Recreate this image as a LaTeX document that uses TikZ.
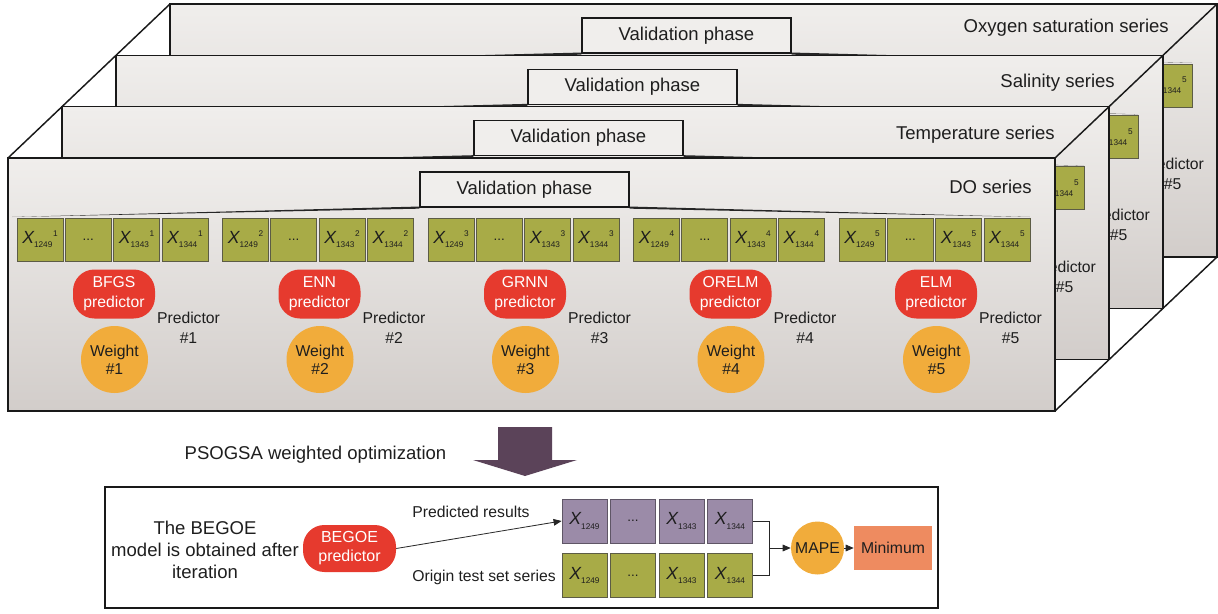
\documentclass[tikz,border=0pt]{standalone}
\usepackage{fontspec}
\setmainfont{Liberation Sans}
\usetikzlibrary{arrows.meta}
\definecolor{xgreen}{HTML}{A8AB47}
\definecolor{xgreenb}{HTML}{5C5C45}
\definecolor{xpurple}{HTML}{9B8BA8}
\definecolor{xpurpleb}{HTML}{5F5666}
\definecolor{pred}{HTML}{E63A2E}
\definecolor{porange}{HTML}{F1AC3B}
\definecolor{psalmon}{HTML}{EE8B60}
\definecolor{bigarrow}{HTML}{5B4359}
\definecolor{paneltop}{HTML}{F0EEEC}
\definecolor{panelbot}{HTML}{D2CDCA}
\definecolor{txt}{HTML}{1E1E1E}
\newcommand\bigf{\fontsize{13.9}{16.5}\selectfont}
\newcommand\midf{\fontsize{11.8}{14.5}\selectfont}
\newcommand\xlab[2]{{\fontsize{13.2}{13}\selectfont\itshape X}{\fontsize{6.2}{6}\selectfont\raisebox{-3.6pt}{#1}\hspace{0.5pt}\raisebox{4.8pt}{#2}}}
\newcommand\xlb[1]{{\fontsize{13.2}{13}\selectfont\itshape X}{\fontsize{6.2}{6}\selectfont\raisebox{-3.6pt}{#1}}}
\tikzset{
  panel/.style={draw=black!90, line width=1.1pt, top color=paneltop, bottom color=panelbot},
  vbox/.style={draw=black!90, line width=1.1pt, fill=paneltop, minimum width=156.75pt, minimum height=26.25pt, inner sep=0pt, font=\bigf, text=txt},
  series/.style={font=\bigf, text=txt, inner sep=0pt},
  xbox/.style={draw=xgreenb, line width=0.6pt, fill=xgreen, minimum width=34.5pt, minimum height=32.25pt, inner sep=0pt, text=txt},
  pbox/.style={draw=xpurpleb, line width=0.6pt, fill=xpurple, minimum width=33.75pt, minimum height=33pt, inner sep=0pt, text=txt},
  gbox/.style={xbox, minimum width=33.75pt, minimum height=33pt},
  pill/.style={fill=pred, rounded corners=16pt, minimum width=61.5pt, minimum height=36.75pt, inner sep=0pt, align=center, font=\fontsize{11.8}{15}\selectfont, text=white},
  wcirc/.style={circle, fill=porange, minimum size=50.25pt, inner sep=0pt, align=center, font=\fontsize{11.8}{13.5}\selectfont, text=txt},
  ptext/.style={align=center, font=\fontsize{11.8}{15}\selectfont, text=txt, inner sep=0pt},
  wedge/.style={fill=black!85},
  lbl/.style={font=\midf, text=txt, inner sep=0pt},
  conn/.style={draw=black!85, line width=0.6pt},
  arr/.style={conn, -{Triangle[length=6pt,width=5pt]}},
}
% back panel: only the parts that stay visible
% #1 prefix, #2 px, #3 py, #4 label, #5 right inset, #6 label y
\newcommand\panelbase[6]{%
 \begin{scope}[name prefix=#1]
  \path[panel] (#2,#3) rectangle ++(1047,253);
  \node[vbox] (val) at ({#2+516.5},{#3+31.5}) {Validation phase};
  \node[series, anchor=east] (lab) at ({#2+1047-#5},{#3+#6}) {#4};
  \fill[wedge] ([yshift=0.9pt]val.south west) -- ([yshift=-0.7pt]val.south west) -- ({#2+4},{#3+59}) -- cycle;
  \fill[wedge] ([yshift=0.9pt]val.south east) -- ([yshift=-0.7pt]val.south east) -- ({#2+1022},{#3+59}) -- cycle;
  \node[xbox] (b43) at ({#2+32+205.5*4+48.3*3},{#3+81.5}) {\xlab{1344}{5}};
  \node[ptext] (t4) at ({#2+180.5+205.5*4},{#3+170}) {Predictor\\\#5};
 \end{scope}}
% front panel: full content
\newcommand\panelfull[6]{%
 \begin{scope}[name prefix=#1]
  \path[panel] (#2,#3) rectangle ++(1047,253);
  \node[vbox] (val) at ({#2+516.5},{#3+31.5}) {Validation phase};
  \node[series, anchor=east] (lab) at ({#2+1047-#5},{#3+#6}) {#4};
  \fill[wedge] ([yshift=0.9pt]val.south west) -- ([yshift=-0.7pt]val.south west) -- ({#2+4},{#3+59}) -- cycle;
  \fill[wedge] ([yshift=0.9pt]val.south east) -- ([yshift=-0.7pt]val.south east) -- ({#2+1022},{#3+59}) -- cycle;
  \foreach \g/\nm in {0/BFGS,1/ENN,2/GRNN,3/ORELM,4/ELM}{
    \pgfmathsetmacro\n{int(\g+1)}
    \foreach \j/\s in {0/1249,2/1343,3/1344}{
      \node[xbox] (b\g\j) at ({#2+32+205.5*\g+48.3*\j},{#3+81.5}) {\xlab{\s}{\n}};
    }
    \node[xbox, font=\fontsize{10}{10}\selectfont] (b\g1) at ({#2+32+205.5*\g+48.3},{#3+81.5}) {...};
    \node[pill] (p\g) at ({#2+106+205.5*\g},{#3+136}) {\nm\\predictor};
    \node[wcirc] (w\g) at ({#2+106.5+205.5*\g},{#3+201.5}) {Weight\\\#\n};
    \node[ptext] (t\g) at ({#2+180.5+205.5*\g},{#3+170}) {Predictor\\\#\n};
  }
 \end{scope}}
\begin{document}
\begin{tikzpicture}[x=0.75pt, y=-0.75pt]
\useasboundingbox (0,0) rectangle (1218,614);
\panelbase{OX}{170}{4}{Oxygen saturation series}{48}{24}
\panelbase{SA}{116}{55.33}{Salinity series}{48}{27}
\panelbase{TE}{62}{106.67}{Temperature series}{54}{28}
\panelfull{DO}{8}{158}{DO series}{23}{29}
% diagonals
\draw[line width=1.1pt, black!90] (8,158) -- (170,4);
\draw[line width=1.1pt, black!90] (1055,158) -- (1217,4);
\draw[line width=1.1pt, black!90] (1055,411) -- (1217,257);
% big arrow
\fill[bigarrow] (498,427) -- (552,427) -- (552,460) -- (577,460) -- (525,476) -- (473,460) -- (498,460) -- cycle;
\node[lbl, font=\bigf] (pso) at (315.5,455) {PSOGSA weighted optimization};
% bottom frame
\draw[line width=1.1pt, black!90] (105,487) rectangle (938,608);
\node[lbl, font=\bigf, align=center] (desc) at (205,550) {The BEGOE\\model is obtained after\\iteration};
\node[pill, minimum width=69.75pt, minimum height=35.25pt, font=\fontsize{12}{14.2}\selectfont] (begoe) at (349.5,548.5) {BEGOE\\predictor};
\node[lbl] (pr) at (471,512) {Predicted results};
\node[lbl] (ot) at (484,577) {Origin test set series};
\node[pbox] (q0) at (584.5,521) {\xlb{1249}};
\node[pbox, font=\fontsize{10}{10}\selectfont] (q1) at (633,521) {...};
\node[pbox] (q2) at (681.5,521) {\xlb{1343}};
\node[pbox] (q3) at (730,521) {\xlb{1344}};
\node[gbox] (g0) at (584.5,575.5) {\xlb{1249}};
\node[gbox, font=\fontsize{10}{10}\selectfont] (g1) at (633,575.5) {...};
\node[gbox] (g2) at (681.5,575.5) {\xlb{1343}};
\node[gbox] (g3) at (730,575.5) {\xlb{1344}};
\node[wcirc, minimum size=39.75pt, font=\midf] (mape) at (817.5,548) {MAPE};
\node[fill=psalmon, minimum width=58.5pt, minimum height=33pt, inner sep=0pt, font=\midf, text=txt] (mini) at (893,548) {Minimum};
\coordinate (jn) at (769,548);
\draw[arr] (begoe.east) -- (q0.west);
\draw[conn] (q3.east) -| (jn);
\draw[conn] (g3.east) -| (jn);
\draw[arr] (jn) -- (mape.west);
\draw[arr] (mape.east) -- (mini.west);
\end{tikzpicture}
\end{document}
